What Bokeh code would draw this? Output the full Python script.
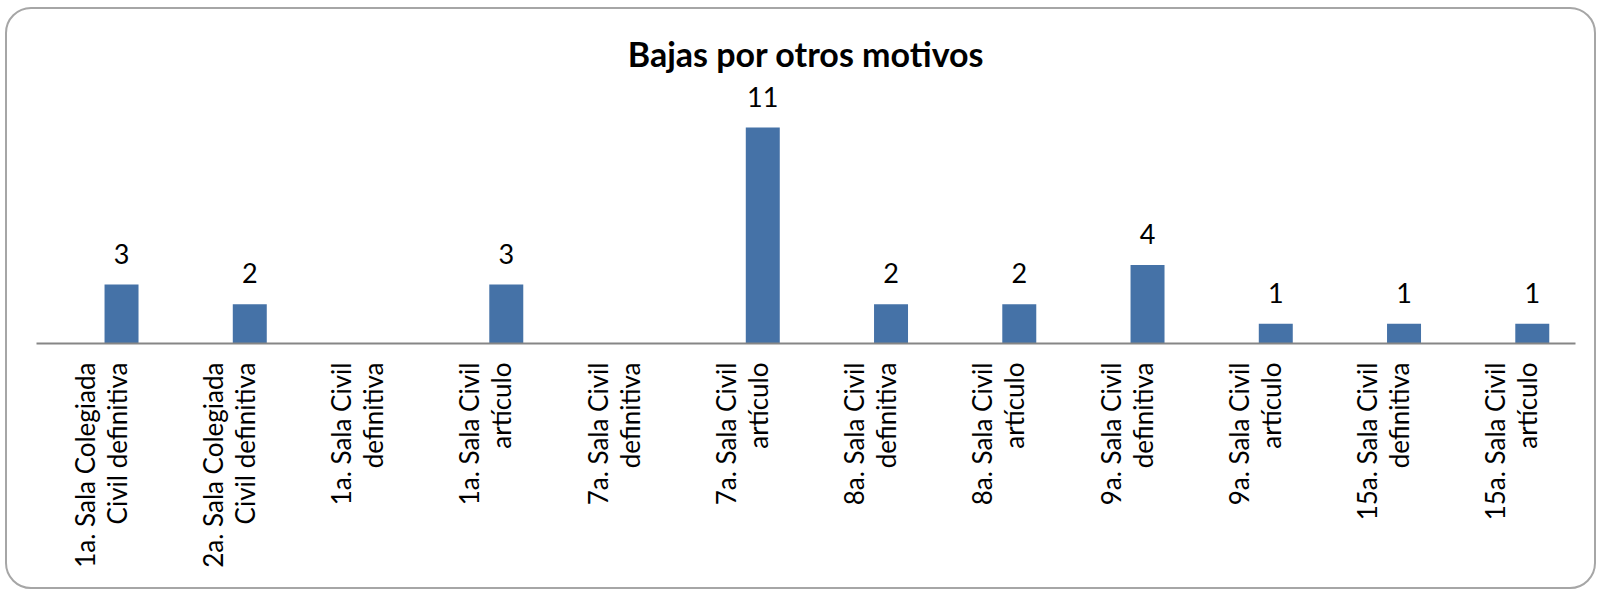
import math
from bokeh.plotting import figure
from bokeh.models import ColumnDataSource, FactorRange, Range1d, LabelSet
from bokeh.transform import dodge
from bokeh.core.properties import value
from bokeh.embed import file_html
from bokeh.resources import INLINE

categories = [
    "1a. Sala Colegiada\nCivil definitiva",
    "2a. Sala Colegiada\nCivil definitiva",
    "1a. Sala Civil\ndefinitiva",
    "1a. Sala Civil\nartículo",
    "7a. Sala Civil\ndefinitiva",
    "7a. Sala Civil\nartículo",
    "8a. Sala Civil\ndefinitiva",
    "8a. Sala Civil\nartículo",
    "9a. Sala Civil\ndefinitiva",
    "9a. Sala Civil\nartículo",
    "15a. Sala Civil\ndefinitiva",
    "15a. Sala Civil\nartículo",
]
values = [3, 2, None, 3, None, 11, 2, 2, 4, 1, 1, 1]
title_text = "Bajas por otros motivos"

FONT = "Lato"
bar_color = "#4572A7"

vals = [float("nan") if v is None else v for v in values]
src = ColumnDataSource(dict(cat=categories, val=vals))
lab_cats = [c for c, v in zip(categories, values) if v is not None]
lab_vals = [v for v in values if v is not None]
lab_src = ColumnDataSource(dict(cat=lab_cats, val=lab_vals, txt=[str(v) for v in lab_vals]))

p = figure(
    x_range=FactorRange(*categories, range_padding=0),
    y_range=Range1d(0, 13.5),
    width=1591, height=582,
    output_backend="svg", toolbar_location=None,
    y_axis_location=None,
    min_border_left=29, min_border_right=23, min_border_top=69, min_border_bottom=248,
    title=title_text,
    styles={"border": "2px solid #a6a6a6", "border-radius": "26px",
            "margin-left": "5px", "margin-top": "7px"},
)
p.outline_line_color = None
p.grid.visible = False
p.background_fill_color = "white"
p.border_fill_color = None

p.title.align = "center"
p.title.text_font = FONT
p.title.text_font_style = "bold"
p.title.text_font_size = "34px"
p.title.text_color = "black"

p.vbar(x=dodge("cat", 0.163, range=p.x_range), top="val", width=0.265, source=src,
       fill_color=bar_color, line_color=None)

labels = LabelSet(x=dodge("cat", 0.163, range=p.x_range), y="val", text="txt", source=lab_src,
                  text_align="center", text_baseline="alphabetic", y_offset=21,
                  text_font=value(FONT), text_font_size=value("27px"), text_color="black")
p.add_layout(labels)

ax = p.xaxis[0]
ax.axis_line_color = "#868686"
ax.axis_line_width = 2
ax.major_tick_line_color = None
ax.minor_tick_line_color = None
ax.major_tick_out = 0
ax.major_tick_in = 0
ax.major_label_orientation = math.pi / 2
ax.major_label_standoff = 19
ax.major_label_text_font = FONT
ax.major_label_text_font_size = "26px"
ax.major_label_text_line_height = 1.0
ax.major_label_text_color = "black"

open("out.html", "w").write(file_html(p, INLINE))
